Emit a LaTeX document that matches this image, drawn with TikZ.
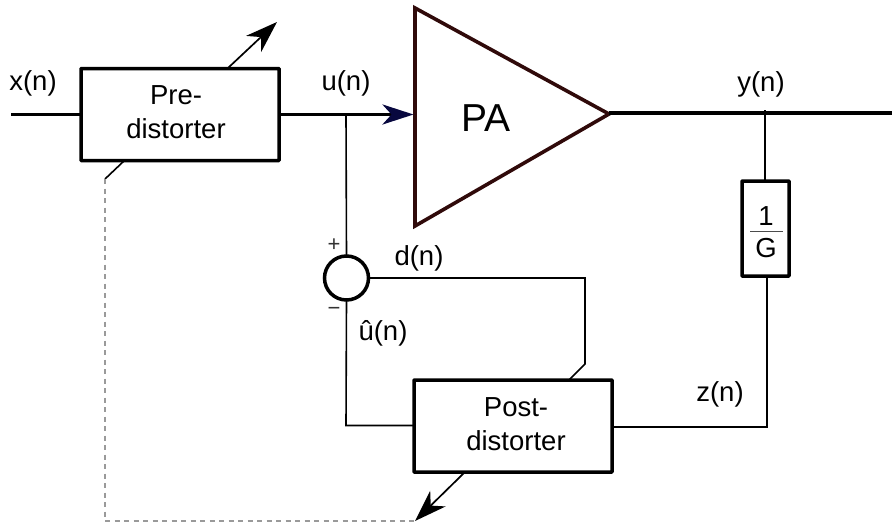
\documentclass[tikz,border=0pt]{standalone}
\usepackage{fontspec}
\setmainfont{Liberation Sans}
\usetikzlibrary{arrows.meta,calc}
\definecolor{pamaroon}{HTML}{300A0A}
\definecolor{headnavy}{HTML}{08083F}
\definecolor{dashgrey}{HTML}{9A9A9A}
\tikzset{
  blockbox/.style={draw=black,line width=3.5pt,fill=white,rounded corners=0.6pt,inner sep=0pt,outer sep=0pt},
  txt/.style={inner sep=0pt,outer sep=0pt,font=\fontsize{27.5}{33}\selectfont,align=center,anchor=center},
  sgn/.style={inner sep=0pt,outer sep=0pt,font=\fontsize{22}{24}\selectfont,text=black!80},
  heavy/.style={line width=3.4pt,draw=black},
  thin wire/.style={line width=1.6pt,draw=black},
  adjust/.style={line width=1.7pt,draw=black,-{Stealth[length=32pt,width=22pt,inset=10pt]}},
  dashwire/.style={line width=1.2pt,draw=dashgrey,dash pattern=on 5pt off 4.5pt}
}
\begin{document}
\begin{tikzpicture}[x=1pt,y=-1pt]
\useasboundingbox (0,0) rectangle (892,522);
% coordinates for free ends and bends
\coordinate (inS) at (11,114.5);
\coordinate (outE) at (892,113);
\coordinate (preTop) at (228,68);
\coordinate (preTip) at (277,22);
\coordinate (preBot) at (125,160);
\coordinate (preKnee) at (105,179);
\coordinate (dashCorner) at (105,521);
\coordinate (postTip) at (415,521);
\coordinate (uTap) at (346,114.5);
\coordinate (yTap) at (765,110);
\coordinate (dBend) at (585,278);
\coordinate (dKnee) at (585,364);
\coordinate (dEnd) at (569,380);
\coordinate (uhatBend) at (346,425.5);
\coordinate (zBend) at (767,427);
\coordinate (postBotP) at (465,472);
\coordinate (paIn) at (413.5,114.5);
\coordinate (paOut) at (609,113);
% blocks
\node[blockbox,minimum width=198pt,minimum height=92pt] (pre) at (180,114.5) {};
\node[blockbox,minimum width=198pt,minimum height=92pt] (post) at (513,426) {};
\node[blockbox,minimum width=47pt,minimum height=95pt] (gain) at (765.5,228.5) {};
\node[blockbox,circle,minimum size=44pt] (sum) at (346.5,278) {};
% PA triangle
\draw[draw=pamaroon,line width=3.6pt,line join=miter,fill=white] (415,8) -- (609,114) -- (415,226) -- cycle;
% connectors
\draw[heavy] (inS) -- (pre.west);
\draw[line width=3.4pt,draw=black,-{Stealth[length=31pt,width=20pt,inset=9pt,fill=headnavy,color=headnavy]}] (pre.east) -- (paIn);
\draw[heavy] (paOut) -- (outE);
\draw[thin wire] (uTap) -- (sum.north);
\draw[thin wire] (sum.south) -- (uhatBend) -- (uhatBend -| post.west);
\draw[thin wire] (sum.east) -- (dBend) -- (dKnee) -- (dEnd);
\draw[thin wire] (yTap) -- (yTap |- gain.north);
\draw[thin wire] (zBend |- gain.south) -- (zBend) -- (zBend -| post.east);
\draw[adjust] (preTop) -- (preTip);
\draw[thin wire] (preBot) -- (preKnee);
\draw[dashwire] (preKnee) -- (dashCorner) -- (postTip);
\draw[adjust] (postBotP) -- (postTip);
% labels
\node[txt] (lblPre) at (176,112) {Pre-\\[1pt]distorter};
\node[txt] (lblPost) at (516,424.5) {Post-\\[1pt]distorter};
\node[txt,font=\fontsize{39}{42}\selectfont] (lblPA) at (486,118) {PA};
\node[txt] (lblx) at (33,83) {x(n)};
\node[txt] (lblu) at (346,83) {u(n)};
\node[txt] (lbly) at (761,84) {y(n)};
\node[txt] (lblz) at (720,394) {z(n)};
\node[txt] (lbld) at (419,258) {d(n)};
\node[txt] (lbluh) at (383,333) {û(n)};
\node[txt] (lblone) at (766,216.5) {1};
\node[txt] (lblG) at (766,248) {G};
\draw[line width=0.9pt,draw=black!70] (750,231) -- (783,231);
\node[sgn] (plus) at (334,245) {+};
\node[sgn] (minus) at (334,311) {−};
\end{tikzpicture}
\end{document}
